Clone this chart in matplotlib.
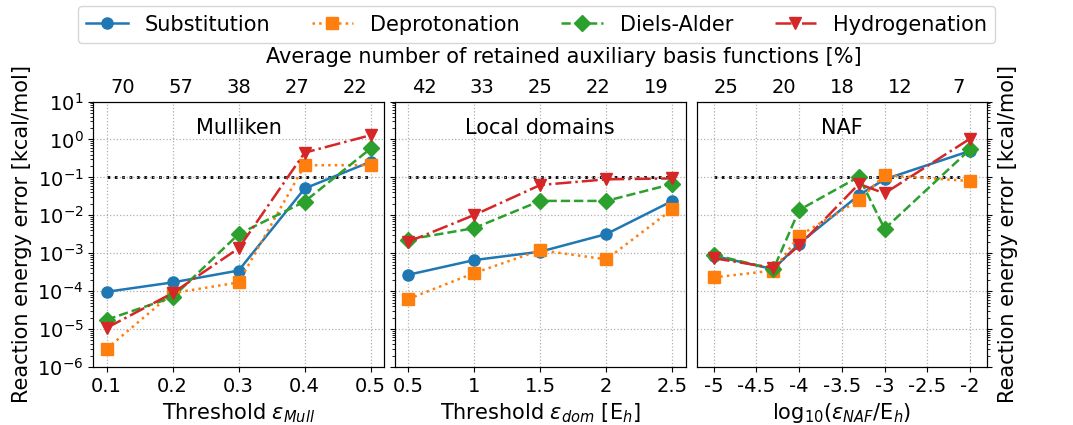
import matplotlib
matplotlib.use("Agg")
import matplotlib.pyplot as plt
from matplotlib.ticker import LogLocator, NullFormatter
import numpy as np

plt.rcParams['font.family'] = ['DejaVu Sans']
plt.rcParams['font.size'] = 14
plt.rcParams['mathtext.fontset'] = 'dejavusans'

series = ["Substitution", "Deprotonation", "Diels-Alder", "Hydrogenation"]

# Panel 1: Mulliken
x_mull = [0.1, 0.2, 0.3, 0.4, 0.5]
mull_sub = [9.6e-5, 1.7e-4, 3.5e-4, 0.051, 0.26]
mull_dep = [3.0e-6, 8.9e-5, 1.7e-4, 0.21, 0.21]
mull_da = [1.76e-5, 6.9e-5, 3.2e-3, 0.023, 0.58]
mull_hyd = [1.07e-5, 8.9e-5, 1.35e-3, 0.45, 1.3]
top_mull = ["70", "57", "38", "27", "22"]

# Panel 2: Local domains
x_dom = [0.5, 1.0, 1.5, 2.0, 2.5]
dom_sub = [2.7e-4, 6.6e-4, 1.1e-3, 3.2e-3, 0.024]
dom_dep = [6.2e-5, 3.0e-4, 1.2e-3, 6.9e-4, 0.0144]
dom_da = [2.3e-3, 4.6e-3, 0.024, 0.024, 0.067]
dom_hyd = [2.0e-3, 0.0102, 0.063, 0.089, 0.094]
top_dom = ["42", "33", "25", "22", "19"]

# Panel 3: NAF
x_naf = [-5.0, -4.301, -4.0, -3.301, -3.0, -2.0]
naf_sub = [8.5e-4, 3.8e-4, 1.8e-3, 0.034, 0.089, 0.5]
naf_dep = [2.3e-4, 3.5e-4, 2.9e-3, 0.025, 0.115, 0.08]
naf_da = [9.1e-4, 3.8e-4, 0.0138, 0.104, 4.4e-3, 0.55]
naf_hyd = [7.4e-4, 4.1e-4, 1.6e-3, 0.067, 0.038, 1.05]
top_naf = ["25", "20", "18", "12", "7"]

styles = [
    dict(color="#1f77b4", ls="-", marker="o", ms=8),
    dict(color="#ff7f0e", ls=":", marker="s", ms=8),
    dict(color="#2ca02c", ls="--", marker="D", ms=8),
    dict(color="#d62728", ls="-.", marker="v", ms=9),
]

panels = [
    (x_mull, [mull_sub, mull_dep, mull_da, mull_hyd], top_mull, "Mulliken",
     r"Threshold $\epsilon_{Mull}$", (0.08, 0.52), [0.1, 0.2, 0.3, 0.4, 0.5],
     ["0.1", "0.2", "0.3", "0.4", "0.5"]),
    (x_dom, [dom_sub, dom_dep, dom_da, dom_hyd], top_dom, "Local domains",
     r"Threshold $\epsilon_{dom}$ [E$_h$]", (0.4, 2.6), [0.5, 1, 1.5, 2, 2.5],
     ["0.5", "1", "1.5", "2", "2.5"]),
    (x_naf, [naf_sub, naf_dep, naf_da, naf_hyd], top_naf, "NAF",
     r"log$_{10}$($\epsilon_{NAF}$/E$_h$)", (-5.2, -1.8),
     [-5, -4.5, -4, -3.5, -3, -2.5, -2],
     ["-5", "-4.5", "-4", "-3.5", "-3", "-2.5", "-2"]),
]

fig, axes = plt.subplots(1, 3, figsize=(10.73, 4.25), dpi=100, sharey=True)
fig.subplots_adjust(left=0.087, right=0.92, top=0.761, bottom=0.1365, wspace=0.038)

handles = []
for i, (ax, (xs, ys, toplab, title, xlabel, xlim, xt, xtl)) in enumerate(zip(axes, panels)):
    for name, y, st in zip(series, ys, styles):
        h, = ax.plot(xs, y, label=name, lw=1.8, **st)
        if i == 0:
            handles.append(h)
    ax.plot([xs[0], xs[-1]], [0.1, 0.1], color="black", ls=":", lw=2, zorder=1)
    ax.set_yscale("log")
    ax.set_ylim(1e-6, 1e1)
    ax.set_xlim(*xlim)
    ax.set_xticks(xt)
    ax.set_xticklabels(xtl)
    ax.set_xlabel(xlabel, fontsize=15)
    ax.grid(True, which="major", ls=":", color="#b0b0b0", lw=0.9)
    ax.text(0.5, 0.9, title, transform=ax.transAxes, ha="center", va="center",
            fontsize=15)
    axt = ax.twiny()
    axt.set_xlim(0, 1)
    axt.set_xticks([0.1, 0.3, 0.5, 0.7, 0.9])
    axt.set_xticklabels(toplab)
    axt.tick_params(axis="x", length=0)

for ax in axes:
    ax.yaxis.set_major_locator(LogLocator(base=10, numticks=20))
    ax.yaxis.set_minor_locator(LogLocator(base=10, subs=np.arange(2, 10), numticks=100))
    ax.yaxis.set_minor_formatter(NullFormatter())

axes[0].set_ylabel("Reaction energy error [kcal/mol]", fontsize=15)
axes[1].tick_params(axis="y", which="both", labelleft=False)
axes[2].yaxis.tick_right()
axes[2].yaxis.set_label_position("right")
axes[2].set_ylabel("Reaction energy error [kcal/mol]", fontsize=15)

fig.text(0.525, 0.866, "Average number of retained auxiliary basis functions [%]",
         ha="center", va="center", fontsize=15)
fig.legend(handles=handles, loc="upper center", bbox_to_anchor=(0.5, 1.01), ncol=4,
           frameon=True, columnspacing=2.0, fontsize=15)

fig.savefig("out.png", dpi=100)
